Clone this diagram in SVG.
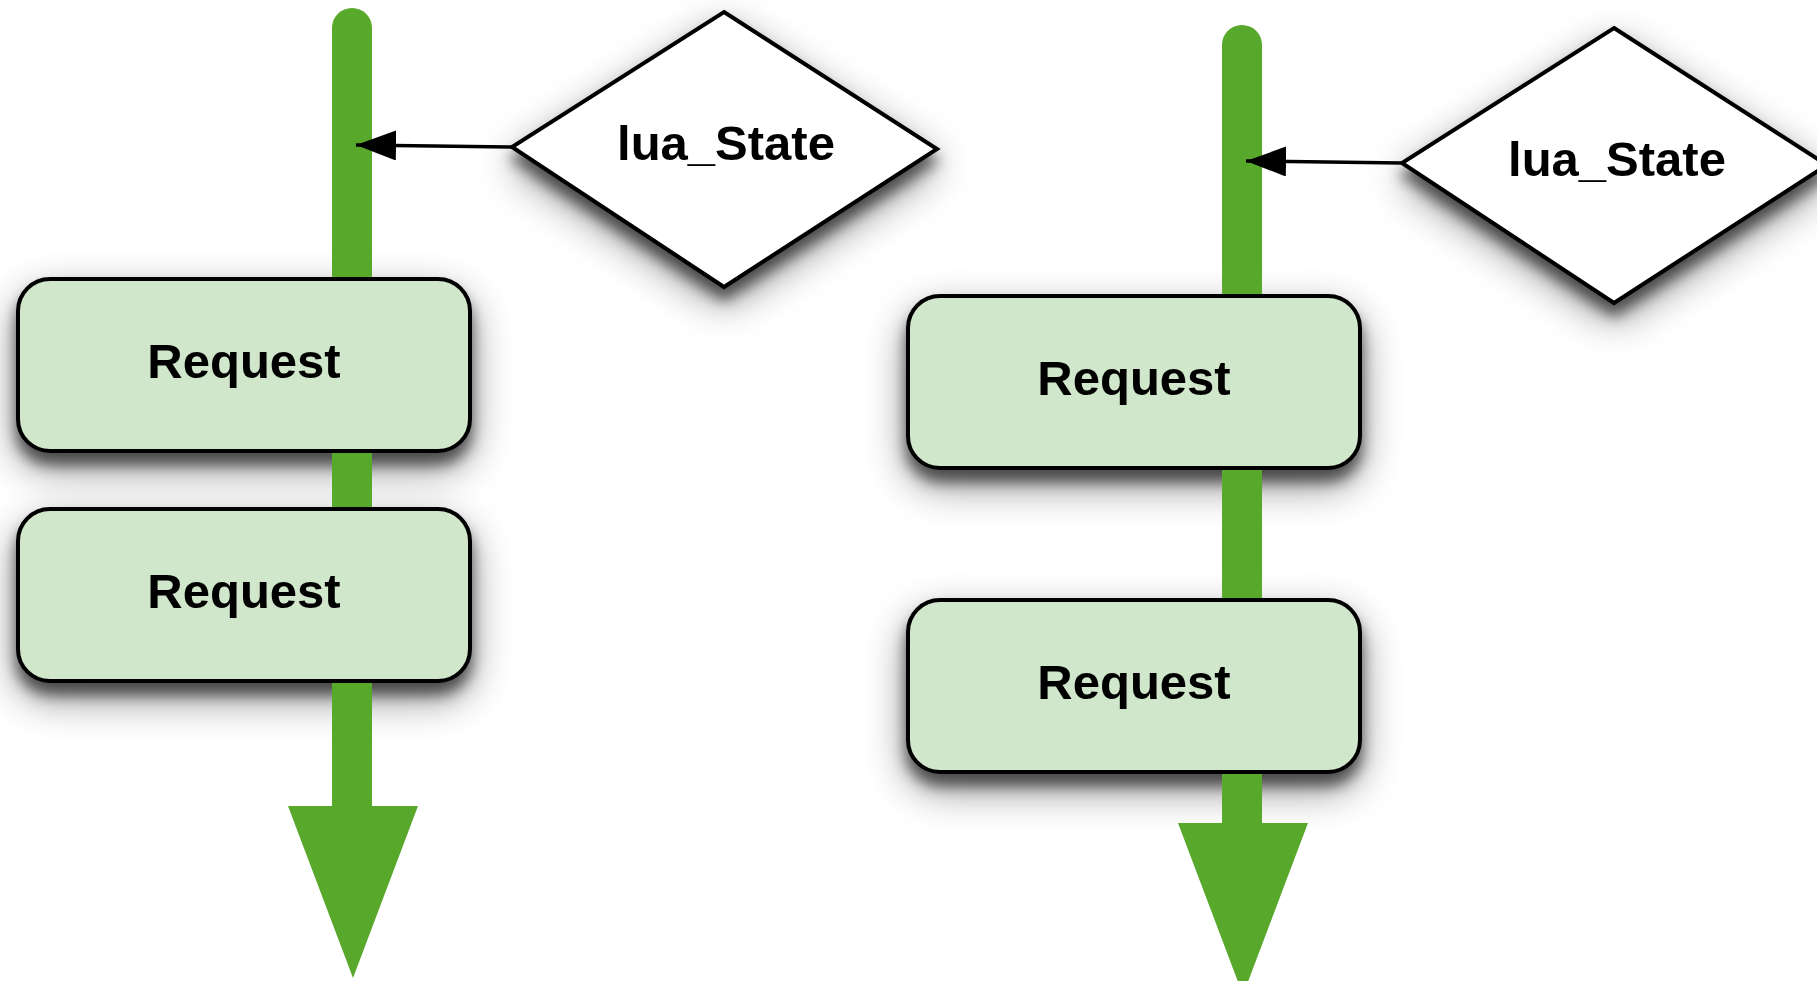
<svg xmlns="http://www.w3.org/2000/svg" width="1817" height="981" viewBox="0 0 1817 981">
  <style>
    .req { fill: #d1e7cb; stroke: #000; stroke-width: 4; }
    .state { fill: #fff; stroke: #000; stroke-width: 4; stroke-linejoin: miter; }
    .label { font-family: "Liberation Sans", Arial, Helvetica, sans-serif; font-weight: bold; font-size: 49px; fill: #000; text-anchor: middle; }
    .flow { fill: #58a82c; }
    .link { fill: none; stroke: #000; stroke-width: 3.5; }
  </style>
  <defs>
    <!-- soft drop shadow shared by all nodes: a tight dark core plus a wide faint halo -->
    <filter id="shadow" x="-30%" y="-50%" width="160%" height="220%" color-interpolation-filters="sRGB">
      <feGaussianBlur in="SourceAlpha" stdDeviation="7" result="core"/>
      <feOffset in="core" dx="0" dy="12" result="coreOff"/>
      <feComponentTransfer in="coreOff" result="coreA">
        <feFuncA type="linear" slope="0.55"/>
      </feComponentTransfer>
      <feGaussianBlur in="SourceAlpha" stdDeviation="20" result="halo"/>
      <feOffset in="halo" dx="0" dy="16" result="haloOff"/>
      <feComponentTransfer in="haloOff" result="haloA">
        <feFuncA type="linear" slope="0.45"/>
      </feComponentTransfer>
      <feMerge>
        <feMergeNode in="haloA"/>
        <feMergeNode in="coreA"/>
        <feMergeNode in="SourceGraphic"/>
      </feMerge>
    </filter>
    <marker id="head" markerUnits="userSpaceOnUse" markerWidth="42" markerHeight="32" refX="40" refY="15" orient="auto">
      <path d="M0,0 L40,15 L0,30 Z" fill="#000"/>
    </marker>
  </defs>

  <!-- left timeline -->
  <g id="state-a" filter="url(#shadow)">
    <polygon class="state" points="724,12 937,149 724,287 512,147"/>
    <text class="label" x="726" y="160">lua_State</text>
  </g>
  <g id="request-a1" filter="url(#shadow)">
    <rect class="req" x="18" y="279" width="452" height="172" rx="32" ry="32"/>
    <text class="label" x="244" y="378">Request</text>
  </g>
  <g id="request-a2" filter="url(#shadow)">
    <rect class="req" x="18" y="509" width="452" height="172" rx="32" ry="32"/>
    <text class="label" x="244" y="608">Request</text>
  </g>

  <!-- right timeline -->
  <g id="state-b" filter="url(#shadow)">
    <polygon class="state" points="1614,28 1827,165 1614,303 1402,163"/>
    <text class="label" x="1617" y="176">lua_State</text>
  </g>
  <g id="request-b1" filter="url(#shadow)">
    <rect class="req" x="908" y="296" width="452" height="172" rx="32" ry="32"/>
    <text class="label" x="1134" y="395">Request</text>
  </g>
  <g id="request-b2" filter="url(#shadow)">
    <rect class="req" x="908" y="600" width="452" height="172" rx="32" ry="32"/>
    <text class="label" x="1134" y="699">Request</text>
  </g>

  <g id="connectors">
    <!-- left flow: segments between the request boxes, ending in a wide arrowhead -->
    <path class="flow" d="M332,277 V28 A20,20 0 0 1 372,28 V277 Z"/>
    <rect class="flow" x="332" y="453" width="40" height="54"/>
    <path class="flow" d="M332,683 V806 H288 L353,978 L418,806 H372 V683 Z"/>
    <line class="link" x1="512" y1="147" x2="356" y2="145" marker-end="url(#head)"/>

    <!-- right flow -->
    <path class="flow" d="M1222,294 V45 A20,20 0 0 1 1262,45 V294 Z"/>
    <rect class="flow" x="1222" y="470" width="40" height="128"/>
    <path class="flow" d="M1222,774 V823 H1178 L1243,995 L1308,823 H1262 V774 Z"/>
    <line class="link" x1="1402" y1="163" x2="1246" y2="161" marker-end="url(#head)"/>
  </g>
</svg>
